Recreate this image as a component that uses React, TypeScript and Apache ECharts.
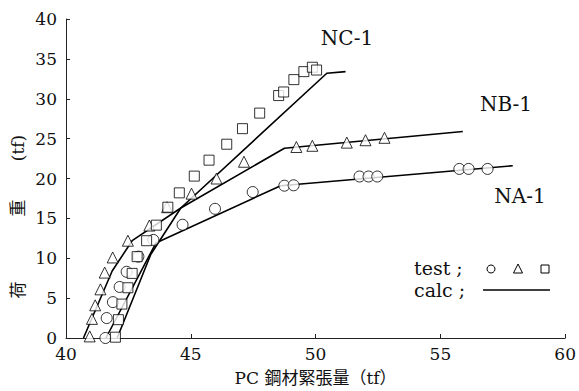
import React, { useEffect, useRef } from "react";
import * as echarts from "echarts";

const xTicks = [40, 45, 50, 55, 60];
const yTicks = [0, 5, 10, 15, 20, 25, 30, 35, 40];

// test data (PC tension tf, load tf)
const testNA: [number, number][] = [
  [41.58, 0], [41.63, 2.5], [41.88, 4.5], [42.15, 6.4], [42.43, 8.3], [42.9, 10.2],
  [43.5, 12.3], [44.67, 14.2], [45.97, 16.2], [47.48, 18.3], [48.75, 19.1], [49.12, 19.15],
  [51.76, 20.25], [52.12, 20.25], [52.47, 20.25], [55.76, 21.2], [56.13, 21.2], [56.89, 21.2],
];
const testNB: [number, number][] = [
  [40.95, 0.2], [41.04, 2.4], [41.17, 4.1], [41.38, 6.1], [41.55, 8.2], [41.87, 10.1],
  [42.48, 12.2], [43.34, 14.1], [44.05, 16.4], [45.03, 18.1], [46.03, 20.0], [47.13, 22.1],
  [49.23, 23.95], [49.87, 24.1], [51.25, 24.5], [52.0, 24.8], [52.76, 25.1],
];
const testNC: [number, number][] = [
  [41.98, 0.1], [42.1, 2.3], [42.24, 4.25], [42.48, 6.3], [42.65, 8.1], [42.85, 10.2],
  [43.23, 12.2], [43.62, 14.15], [44.08, 16.4], [44.54, 18.2], [45.14, 20.3], [45.73, 22.3],
  [46.44, 24.3], [47.07, 26.25], [47.76, 28.2], [48.52, 30.4], [48.72, 30.85], [49.13, 32.4],
  [49.53, 33.4], [49.87, 33.95], [50.04, 33.6],
];

// calc data
const calcNA: [number, number][] = [[41.6, 0], [43.6, 11.9], [48.6, 19.1], [57.9, 21.6]];
const calcNB: [number, number][] = [[40.7, 0], [41.85, 8.4], [42.65, 12.2], [44.6, 16.3], [48.75, 23.8], [55.9, 25.9]];
const calcNC: [number, number][] = [[42.05, 0], [43.4, 10.5], [44.6, 16.3], [50.45, 33.2], [51.2, 33.4]];

const SERIF = "'DejaVu Serif', 'Liberation Serif', serif";
const CJK = "'DejaVu Serif', 'Noto Sans CJK JP', serif";

export default function App() {
  const ref = useRef<HTMLDivElement>(null);
  useEffect(() => {
    if (!ref.current) return;
    const chart = echarts.init(ref.current, null, { renderer: "svg" });
    const lineStyle = { color: "#000", width: 1.6 };
    const markerStyle = { color: "#fff", borderColor: "#000", borderWidth: 1 };
    const calc = (name: string, data: [number, number][]) => ({
      name, type: "line", data, symbol: "none", lineStyle, silent: true, z: 2,
    });
    const test = (name: string, data: [number, number][], symbol: string, size: number) => ({
      name, type: "scatter", data, symbol, symbolSize: size, itemStyle: markerStyle, z: 3,
    });
    const txt = (text: string, x: number, y: number, size: number, font = SERIF, extra: any = {}) => ({
      type: "text", x, y, ...extra,
      style: { text, fontFamily: font, fontSize: size, fill: "#111", textAlign: "center", textVerticalAlign: "middle" },
    });
    chart.setOption({
      animation: false,
      backgroundColor: "#fff",
      grid: { left: 66, right: 13, top: 19, bottom: 52 },
      xAxis: {
        type: "value", min: 40, max: 60, interval: 5,
        name: "PC 鋼材緊張量（tf）", nameLocation: "middle", nameGap: 31,
        nameTextStyle: { fontFamily: CJK, fontSize: 17, color: "#111" },
        axisLine: { lineStyle: { color: "#222", width: 1 } },
        axisTick: { inside: true, length: 4, lineStyle: { color: "#222" } },
        axisLabel: { fontFamily: SERIF, fontSize: 17, color: "#111", margin: 7,
          formatter: (v: number) => (xTicks.includes(v) ? String(v) : "") },
        splitLine: { show: false },
      },
      yAxis: {
        type: "value", min: 0, max: 40, interval: 5,
        axisLine: { show: true, lineStyle: { color: "#222", width: 1 } },
        axisTick: { show: true, inside: true, length: 4, lineStyle: { color: "#222" } },
        axisLabel: { fontFamily: SERIF, fontSize: 17, color: "#111", margin: 9,
          formatter: (v: number) => (yTicks.includes(v) ? String(v) : "") },
        splitLine: { show: false },
      },
      series: [
        calc("calc NA-1", calcNA),
        calc("calc NB-1", calcNB),
        calc("calc NC-1", calcNC),
        test("test NA-1", testNA, "circle", 11),
        test("test NB-1", testNB, "triangle", 11),
        test("test NC-1", testNC, "rect", 10),
      ],
      graphic: [
        txt("荷", 18, 290, 17, CJK, { rotation: Math.PI / 2 }),
        txt("重", 18, 208, 17, CJK, { rotation: Math.PI / 2 }),
        txt("(tf)", 18, 148, 17, SERIF, { rotation: Math.PI / 2 }),
        txt("NC-1", 347, 38, 20),
        txt("NB-1", 506, 104, 20),
        txt("NA-1", 520, 196, 20),
        { type: "text", x: 414, y: 268, style: { text: "test ;", fontFamily: SERIF, fontSize: 19, fill: "#111", textVerticalAlign: "middle" } },
        { type: "text", x: 414, y: 290, style: { text: "calc ;", fontFamily: SERIF, fontSize: 19, fill: "#111", textVerticalAlign: "middle" } },
        { type: "circle", shape: { cx: 491, cy: 269, r: 4 }, style: { fill: "#fff", stroke: "#000", lineWidth: 1 } },
        { type: "polygon", shape: { points: [[518, 264], [522.5, 273], [513.5, 273]] }, style: { fill: "#fff", stroke: "#000", lineWidth: 1 } },
        { type: "rect", shape: { x: 541, y: 265, width: 8, height: 8 }, style: { fill: "#fff", stroke: "#000", lineWidth: 1 } },
        { type: "line", shape: { x1: 483, y1: 290, x2: 550, y2: 290 }, style: { stroke: "#000", lineWidth: 1.6 } },
      ],
    });
    return () => chart.dispose();
  }, []);
  return <div ref={ref} style={{ width: 579, height: 391, position: "absolute", left: 0, top: 0 }} />;
}
